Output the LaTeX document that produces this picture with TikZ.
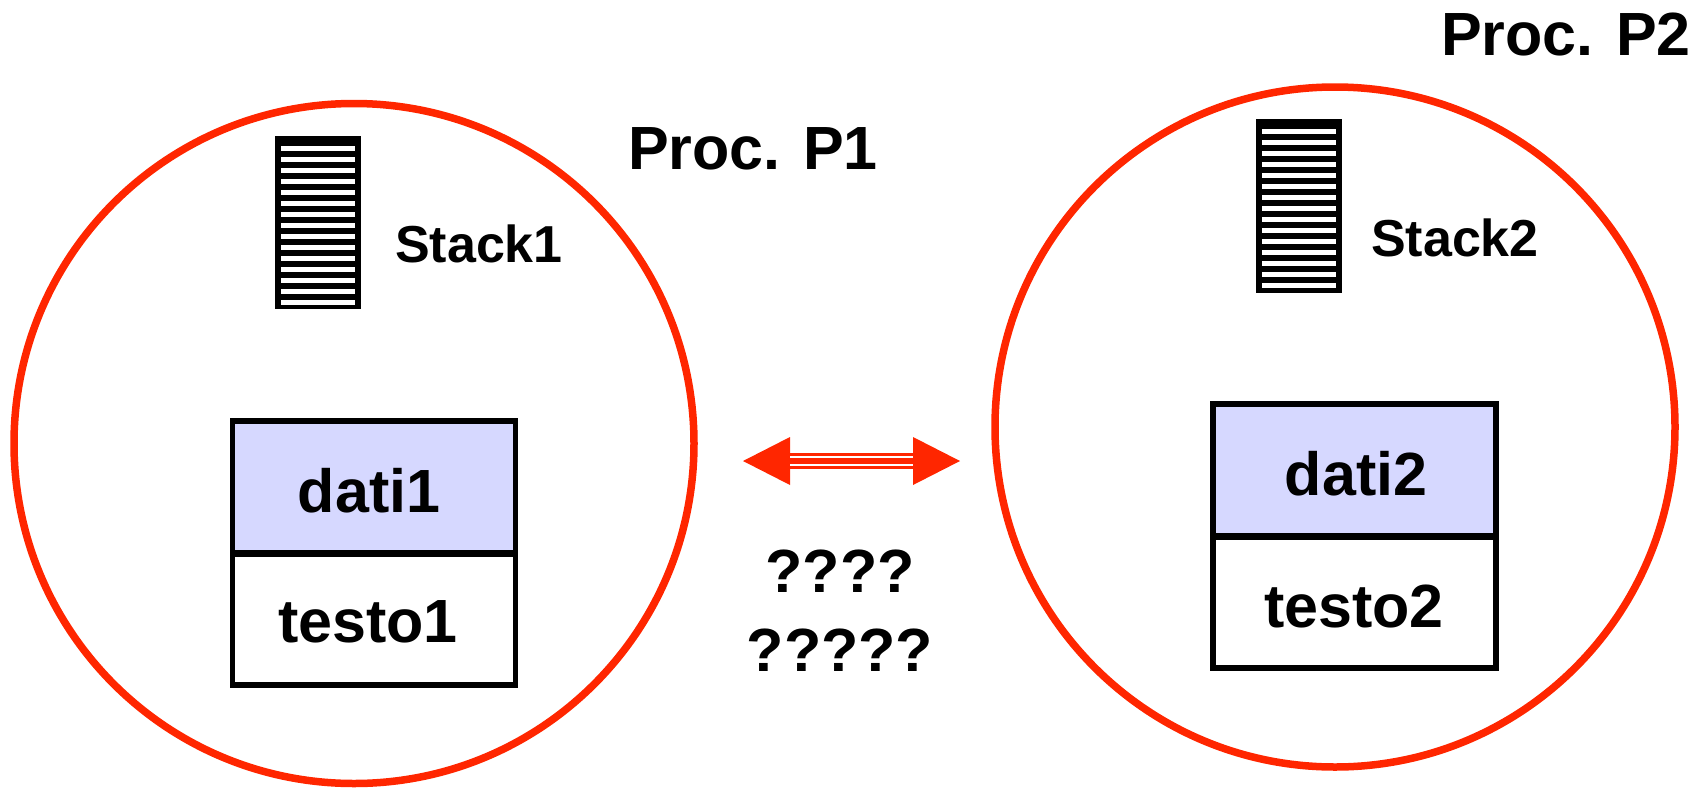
\documentclass[tikz,border=0pt]{standalone}
\usepackage{fontspec}
\setmainfont{Liberation Sans}
\definecolor{procred}{RGB}{255,38,0}
\definecolor{datifill}{RGB}{214,216,255}
\tikzset{
  procring/.style={circle, draw=procred, line width=7.5pt, inner sep=0pt, outer sep=0pt, fill=none},
  bigtxt/.style={inner sep=0pt, font=\fontsize{61}{70}\selectfont\bfseries},
  stacktxt/.style={inner sep=0pt, font=\fontsize{52}{60}\selectfont\bfseries},
  segbox/.style={draw=black, line width=5.5pt, minimum width=283pt, minimum height=132pt, inner sep=0pt, outer sep=0pt},
}
\newcommand{\stackicon}[3]{%
  \fill[black] (#1,#2) rectangle ++(86,#3);
  \foreach \k in {0,...,14} {\fill[white] (#1+6,#2+10+\k*11) rectangle ++(74,5);}
}
\begin{document}
\begin{tikzpicture}[x=1pt,y=-1pt]
\useasboundingbox (0,0) rectangle (1698,793);
% circles
\node[procring, minimum size=680pt] (p1) at (354,443.5) {};
\node[procring, minimum size=680pt] (p2) at (1335,427) {};
% labels
\node[bigtxt] (l1) at (753,149) {Proc. P1};
\node[bigtxt] (l2) at (1566,34) {Proc. P2};
% stacks
\stackicon{275}{136}{173}
\stackicon{1256}{119}{174}
\node[stacktxt] (s1) at (479,244) {Stack1};
\node[stacktxt] (s2) at (1455,238) {Stack2};
% boxes
\node[segbox, fill=datifill, anchor=north west] (d1) at (232.5,421) {};
\node[segbox, fill=white, anchor=north west] (t1) at (232.5,553) {};
\node[bigtxt] (d1t) at (369,491) {dati1};
\node[bigtxt] (t1t) at (368,622) {testo1};
\draw[line width=7pt] (d1.south west) -- (d1.south east);
\node[segbox, fill=datifill, anchor=north west] (d2) at (1213,404) {};
\node[segbox, fill=white, anchor=north west] (t2) at (1213,536) {};
\node[bigtxt] (d2t) at (1356,474) {dati2};
\node[bigtxt] (t2t) at (1354,606) {testo2};
\draw[line width=7pt] (d2.south west) -- (d2.south east);
% arrow
\coordinate (a1) at (743,461);
\coordinate (a2) at (960,461);
\fill[procred] (a1) -- (790,437) -- (790,485) -- cycle;
\fill[procred] (a2) -- (913,437) -- (913,485) -- cycle;
\fill[procred] (789,453) rectangle (914,469);
\draw[white, line width=2pt] (790,457) -- (913,457);
\draw[white, line width=2pt] (790,464.5) -- (913,464.5);
% question marks
\node[bigtxt] (q1) at (840,571) {????};
\node[bigtxt] (q2) at (840,650) {?????};
\end{tikzpicture}
\end{document}
